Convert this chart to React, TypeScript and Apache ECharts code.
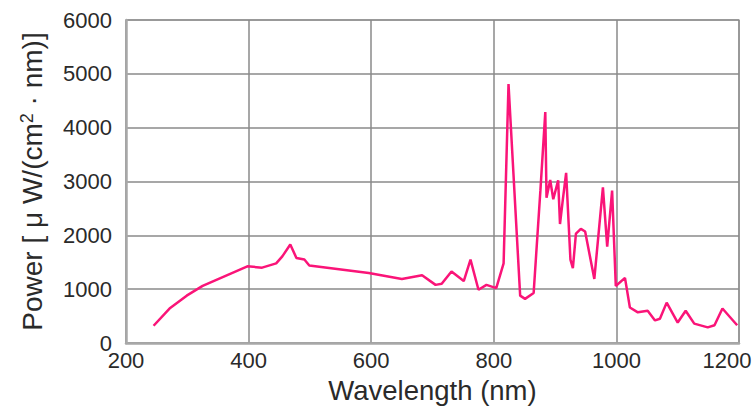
import React, { useEffect, useRef } from "react";
import * as echarts from "echarts";

const wavelengths = [
  245, 271, 299, 325, 398, 422, 445, 455, 468, 478, 491, 499, 596, 650, 683, 705, 715, 731, 751, 762,
  775, 788, 804, 816, 824, 843, 851, 865, 876, 884, 886, 892, 897, 905, 908, 913, 918, 925, 929, 934,
  942, 949, 964, 978, 985, 993, 999, 1014, 1022, 1035, 1051, 1063, 1071, 1082, 1100, 1113, 1127, 1149,
  1160, 1173, 1197,
];
const powers = [
  320, 640, 880, 1060, 1425, 1400, 1480, 1610, 1830, 1580, 1550, 1440, 1300, 1190, 1260, 1080, 1100, 1330, 1150, 1550,
  990, 1080, 1020, 1480, 4810, 880, 820, 930, 2830, 4290, 2700, 3030, 2670, 3020, 2210, 2700, 3160, 1550, 1390, 2030,
  2120, 2070, 1190, 2890, 1790, 2830, 1060, 1210, 660, 570, 600, 420, 450, 750, 380, 600, 360, 290,
  330, 640, 330,
];
const xTicks = [200, 400, 600, 800, 1000, 1200];
const yTicks = [0, 1000, 2000, 3000, 4000, 5000, 6000];
const xTitle = "Wavelength (nm)";
const yTitleParts = ["Power [ \u03bc W/(cm", "2", " \u00b7 nm)]"];

export default function App() {
  const ref = useRef<HTMLDivElement>(null);
  useEffect(() => {
    if (!ref.current) return;
    const chart = echarts.init(ref.current, null, { renderer: "svg" });
    const font = "'Liberation Sans', Arial, sans-serif";
    const data = wavelengths.map((w, i) => [w, powers[i]]);
    chart.setOption({
      animation: false,
      backgroundColor: "#ffffff",
      textStyle: { fontFamily: font },
      grid: {
        left: 126,
        right: 16,
        top: 20,
        bottom: 61,
        show: true,
        borderColor: "#b4b4b4",
        borderWidth: 1.5,
      },
      xAxis: {
        type: "value",
        min: xTicks[0],
        max: xTicks[xTicks.length - 1],
        interval: 200,
        name: xTitle,
        nameLocation: "middle",
        nameGap: 33,
        nameTextStyle: { fontSize: 27.5, color: "#2a2a2a", fontFamily: font },
        axisLine: { show: true, lineStyle: { color: "#a8a8a8", width: 2.5 } },
        axisTick: { show: false },
        splitLine: { show: true, lineStyle: { color: "#8a8a8a", width: 1.5 } },
        axisLabel: {
          fontSize: 22,
          color: "#2a2a2a",
          margin: 6,
          fontFamily: font,
          formatter: (v: number) => (v === xTicks[xTicks.length - 1] ? "{m|" + v + "}" : String(v)),
          rich: {
            m: { fontSize: 22, color: "#2a2a2a", fontFamily: font, padding: [0, 24, 0, 0] },
          },
        },
      },
      yAxis: {
        type: "value",
        min: yTicks[0],
        max: yTicks[yTicks.length - 1],
        interval: 1000,
        name: "{a|" + yTitleParts[0] + "}{s|" + yTitleParts[1] + "}{a|" + yTitleParts[2] + "}",
        nameLocation: "middle",
        nameRotate: 90,
        nameGap: 80,
        nameTextStyle: {
          fontSize: 28,
          color: "#2a2a2a",
          fontFamily: font,
          rich: {
            a: { fontSize: 28, color: "#2a2a2a", fontFamily: font, verticalAlign: "bottom" },
            s: { fontSize: 18, color: "#2a2a2a", fontFamily: font, verticalAlign: "top" },
          },
        },
        axisLine: { show: true, lineStyle: { color: "#a8a8a8", width: 2.5 } },
        axisTick: { show: false },
        splitLine: { show: true, lineStyle: { color: "#8a8a8a", width: 1.5 } },
        axisLabel: {
          fontSize: 22,
          color: "#2a2a2a",
          margin: 14,
          fontFamily: font,
          padding: [7, 0, 0, 0],
          formatter: (v: number) => String(v),
        },
      },
      series: [
        {
          type: "line",
          data,
          showSymbol: false,
          symbol: "none",
          lineStyle: { color: "#fa1478", width: 2.5 },
          itemStyle: { color: "#fa1478" },
        },
      ],
    });
    return () => chart.dispose();
  }, []);
  return <div ref={ref} style={{ width: 755, height: 409, position: "absolute", left: 0, top: 0 }} />;
}
